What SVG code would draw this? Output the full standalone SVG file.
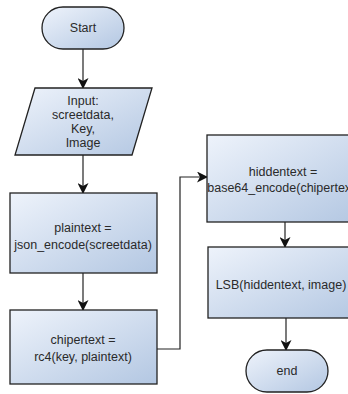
<svg xmlns="http://www.w3.org/2000/svg" width="348" height="394" viewBox="0 0 348 394">
<defs>
<linearGradient id="g" x1="0" y1="0" x2="1" y2="1">
<stop offset="0" stop-color="#eef3fb"/>
<stop offset="1" stop-color="#b3c7e2"/>
</linearGradient>
<marker id="ah" markerWidth="11" markerHeight="11" refX="10" refY="5.5" orient="auto" markerUnits="userSpaceOnUse">
<path d="M0,0 L11,5.5 L0,11 L3,5.5 Z" fill="#111"/>
</marker>
<style>
.s{fill:url(#g);stroke:#222;stroke-width:1.3}
.t{font-family:"Liberation Sans",Arial,sans-serif;font-size:12.5px;fill:#2a2a2a;text-anchor:middle}
.c{fill:none;stroke:#222;stroke-width:1.2;marker-end:url(#ah)}
</style>
</defs>
<rect width="348" height="394" fill="#fff"/>
<g id="connectors">
<line class="c" x1="83" y1="49" x2="83" y2="88"/>
<line class="c" x1="83" y1="155" x2="83" y2="193"/>
<line class="c" x1="83" y1="273" x2="83" y2="310"/>
<polyline class="c" points="157,349 180,349 180,177 207,177"/>
<line class="c" x1="285" y1="222" x2="285" y2="247"/>
<line class="c" x1="286" y1="318" x2="286" y2="350"/>
</g>
<g id="start">
<rect class="s" x="42" y="7" width="82" height="42" rx="21" ry="21"/>
<text class="t" x="83" y="32">Start</text>
</g>
<g id="input">
<polygon class="s" points="35,88 152,88 132,155 15,155"/>
<text class="t" x="83" y="105">Input:</text>
<text class="t" x="83" y="119">screetdata,</text>
<text class="t" x="83" y="133">Key,</text>
<text class="t" x="83" y="147">Image</text>
</g>
<g id="plaintext">
<rect class="s" x="10" y="193" width="147" height="80"/>
<text class="t" x="83" y="232">plaintext =</text>
<text class="t" x="83" y="249">json_encode(screetdata)</text>
</g>
<g id="chipertext">
<rect class="s" x="10" y="310" width="147" height="74"/>
<text class="t" x="83" y="344">chipertext =</text>
<text class="t" x="83" y="361">rc4(key, plaintext)</text>
</g>
<g id="hiddentext">
<rect class="s" x="207" y="135" width="152" height="87"/>
<text class="t" x="283" y="176">hiddentext =</text>
<text class="t" x="283" y="192">base64_encode(chipertext)</text>
</g>
<g id="lsb">
<rect class="s" x="208" y="247" width="152" height="71"/>
<text class="t" x="281" y="289">LSB(hiddentext, image)</text>
</g>
<g id="end">
<rect class="s" x="246" y="350" width="82" height="42" rx="21" ry="21"/>
<text class="t" x="287" y="375">end</text>
</g>
</svg>
